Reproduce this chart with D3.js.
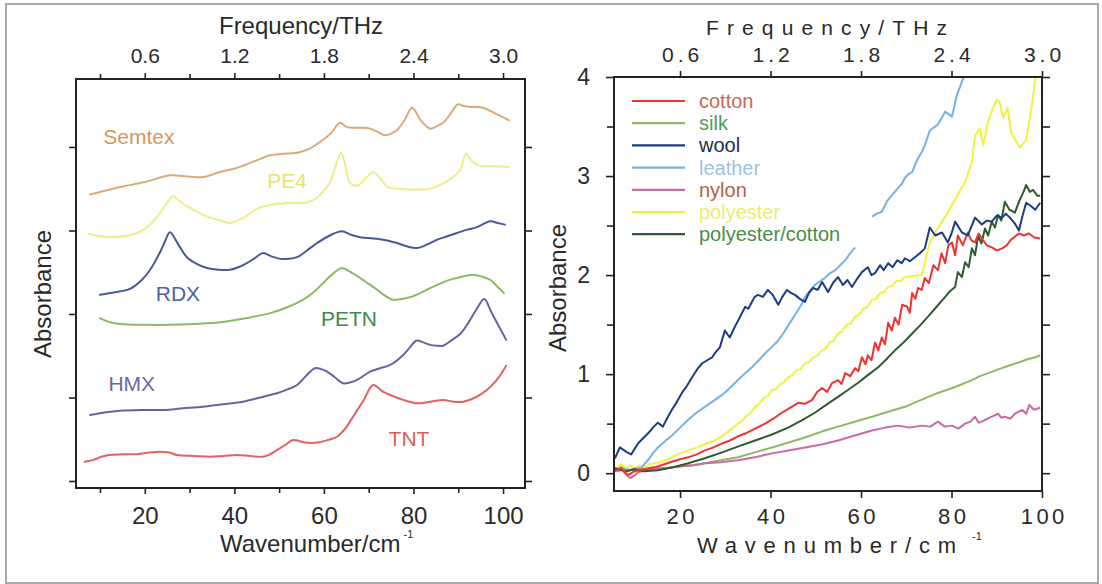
<!DOCTYPE html>
<html>
<head>
<meta charset="utf-8">
<script src="https://cdn.jsdelivr.net/npm/d3@7"></script>
<style>
  html, body { margin: 0; padding: 0; background: #fff; }
  svg { display: block; font-family: "Liberation Sans", Arial, Helvetica, sans-serif; }
</style>
</head>
<body>
<svg id="chart" width="1102" height="584"></svg>
<script>
// ---------- Explosives: THz absorbance spectra (offset), [wavenumber cm^-1, absorbance] ----------
const explosiveNames = ["Semtex", "PE4", "RDX", "PETN", "HMX", "TNT"];

const semtex = [[7.8,3.43],[14.5,3.52],[20,3.58],[25.6,3.66],[29,3.65],[33.0,3.64],[36.8,3.70],[40.6,3.75],[44.5,3.83],[48.0,3.90],[51,3.92],[54.0,3.93],[56.8,3.98],[59.1,4.06],[61.5,4.16],[63.6,4.29],[65.0,4.24],[66.5,4.23],[68.5,4.23],[70.3,4.22],[72.0,4.18],[73.6,4.14],[75.0,4.16],[76.3,4.20],[78.0,4.32],[79.7,4.47],[81.6,4.32],[83.7,4.22],[85.2,4.25],[86.6,4.29],[88.3,4.40],[89.9,4.51],[91.2,4.49],[92.6,4.48],[94.0,4.48],[95.5,4.47],[98.4,4.40],[101.3,4.32]];

const pe4 = [[7.5,2.96],[10,2.93],[12.2,2.92],[15.3,2.93],[18.3,2.97],[21,3.06],[23.4,3.21],[25.0,3.33],[26.3,3.41],[28.5,3.32],[30.8,3.25],[33.2,3.18],[35.5,3.14],[37.3,3.11],[39.0,3.09],[42,3.15],[45.1,3.26],[48.3,3.31],[51.5,3.33],[53.6,3.33],[55.8,3.33],[58.2,3.38],[60.2,3.49],[61.4,3.58],[62.3,3.72],[63.1,3.85],[63.8,3.93],[64.6,3.82],[65.8,3.57],[67.6,3.54],[69.4,3.63],[71.0,3.70],[72.6,3.62],[74.3,3.52],[76.8,3.50],[79.2,3.49],[81.5,3.49],[83.7,3.50],[86.2,3.55],[88.6,3.63],[90.4,3.72],[91.7,3.92],[93.1,3.83],[94.6,3.78],[97.9,3.77],[101.3,3.76]];

const rdx = [[10.0,2.23],[13.4,2.26],[16.7,2.30],[19.2,2.40],[21.2,2.53],[23.4,2.74],[24.6,2.88],[25.6,2.98],[27.4,2.84],[29.4,2.68],[31.6,2.60],[33.9,2.55],[36.5,2.53],[39.0,2.53],[40.9,2.56],[42.8,2.61],[44.6,2.67],[46.4,2.73],[48.3,2.69],[50.2,2.66],[52.1,2.66],[54.0,2.68],[56.2,2.76],[58.5,2.85],[61.3,2.94],[64.0,2.99],[66.0,2.95],[68.1,2.92],[71.9,2.90],[76.3,2.85],[78.5,2.81],[80.8,2.79],[83.0,2.83],[85.3,2.89],[87.5,2.93],[89.7,2.97],[92.0,3.01],[94.2,3.04],[97.1,3.11],[98.8,3.09],[100.4,3.07]];

const petn = [[10.0,1.95],[12.2,1.90],[14.5,1.88],[20,1.87],[25.6,1.87],[31,1.88],[36.8,1.90],[42.5,1.95],[48.0,2.01],[51.8,2.08],[55.3,2.17],[57.7,2.26],[59.8,2.37],[62.0,2.48],[64.0,2.55],[66.0,2.50],[68.1,2.43],[70.0,2.36],[71.9,2.29],[73.6,2.22],[75.4,2.17],[77.3,2.18],[79.2,2.20],[81.5,2.25],[83.7,2.31],[86.2,2.37],[88.8,2.42],[91.0,2.45],[93.3,2.47],[95.2,2.45],[97.1,2.41],[98.7,2.33],[100.2,2.25]];

const hmx = [[7.8,0.79],[11,0.82],[14.5,0.84],[19,0.85],[24.1,0.85],[28.5,0.87],[33.0,0.89],[37.5,0.92],[41.9,0.95],[45.8,1.00],[49.5,1.05],[52,1.10],[54.0,1.15],[56.2,1.27],[58.0,1.35],[59.4,1.34],[60.7,1.31],[62.5,1.24],[64.3,1.17],[65.8,1.18],[67.4,1.21],[70.3,1.31],[72.5,1.35],[74.8,1.39],[77.7,1.51],[79.2,1.60],[80.6,1.68],[82.2,1.66],[83.7,1.63],[85.2,1.62],[86.6,1.62],[88.6,1.69],[90.6,1.77],[92.3,1.90],[94.0,2.05],[95.8,2.18],[97.4,2.02],[99.0,1.86],[100.7,1.69]];

const tnt = [[6.6,0.23],[8.4,0.25],[10.3,0.29],[12.2,0.31],[15,0.32],[18.3,0.32],[21,0.34],[23.4,0.35],[25.5,0.34],[27.2,0.31],[31,0.30],[34.6,0.29],[37.6,0.30],[40.6,0.31],[43.5,0.30],[46.4,0.29],[48.0,0.32],[49.5,0.37],[51.3,0.43],[53.1,0.49],[55.8,0.46],[58.5,0.46],[60.8,0.49],[62.9,0.53],[64.8,0.63],[66.5,0.77],[68.8,0.96],[71.0,1.15],[72.9,1.08],[74.8,1.03],[77.8,0.97],[80.8,0.93],[83.7,0.95],[86.6,0.97],[88.9,0.95],[91.1,0.95],[93.8,1.00],[96.4,1.09],[98.6,1.21],[100.7,1.38]];

const explosiveSeries = [semtex, pe4, rdx, petn, hmx, tnt];

// ---------- Fabrics: THz absorbance, [wavenumber cm^-1, absorbance] ----------
const fabricNames = ["cotton", "silk", "wool", "leather", "nylon", "polyester", "polyester/cotton"];

const cotton = [[5.6,0.03],[7.0,0.05],[8.5,-0.02],[10.0,0.02],[12.0,0.04],[14.5,0.06],[16.5,0.09],[18.5,0.12],[20.0,0.14],[21.8,0.16],[23.7,0.19],[25.5,0.23],[27.4,0.26],[29.3,0.30],[31.0,0.33],[32.7,0.37],[34.4,0.40],[36.6,0.45],[38.8,0.50],[40.6,0.55],[42.5,0.61],[44.3,0.66],[46.1,0.71],[47.6,0.70],[49.2,0.74],[50.3,0.82],[51.4,0.86],[52.5,0.82],[53.6,0.91],[54.9,0.94],[55.7,0.90],[56.5,1.01],[57.6,0.98],[58.7,1.06],[59.4,1.03],[60.2,1.17],[61.0,1.10],[61.5,1.19],[62.3,1.14],[63.1,1.32],[63.8,1.24],[64.6,1.37],[65.3,1.30],[66.0,1.52],[66.8,1.44],[67.5,1.57],[68.3,1.50],[69.1,1.70],[70.2,1.68],[70.8,1.62],[71.3,1.82],[72.0,1.76],[72.6,1.87],[73.4,1.85],[74.1,1.97],[75.0,1.92],[76.0,2.10],[77.0,2.05],[77.8,2.22],[78.6,2.12],[79.3,2.30],[80.1,2.33],[80.8,2.20],[81.4,2.40],[82.5,2.30],[83.6,2.43],[84.4,2.35],[85.2,2.33],[86.0,2.42],[86.7,2.37],[87.8,2.30],[88.9,2.28],[90.0,2.25],[91.2,2.27],[92.2,2.30],[93.2,2.36],[94.9,2.42],[96.0,2.40],[97.1,2.42],[98.3,2.38],[99.6,2.37]];

const silk = [[5.6,0.03],[7.0,0.06],[8.5,0.02],[10.0,0.05],[12.0,0.04],[14.0,0.06],[17.0,0.05],[20.0,0.07],[22.8,0.08],[25.5,0.10],[29.0,0.13],[32.8,0.16],[36.5,0.21],[40.3,0.26],[44.0,0.31],[47.6,0.36],[51.3,0.42],[54.9,0.47],[58.6,0.52],[62.4,0.57],[66.0,0.62],[69.7,0.67],[73.3,0.74],[77.0,0.81],[80.8,0.87],[84.5,0.94],[86.3,0.98],[88.1,1.01],[90.5,1.05],[92.9,1.09],[95.0,1.12],[96.8,1.15],[98.5,1.17],[99.6,1.19]];

const wool = [[5.6,0.15],[6.7,0.26],[8.3,0.21],[9.2,0.19],[10.7,0.30],[12.0,0.36],[12.9,0.40],[14.0,0.46],[15.1,0.51],[16.2,0.47],[17.2,0.56],[18.2,0.64],[19.3,0.72],[20.4,0.81],[21.5,0.88],[22.7,0.97],[23.8,1.05],[24.9,1.11],[26.0,1.14],[27.1,1.17],[28.0,1.23],[28.8,1.27],[29.9,1.44],[31.0,1.37],[31.8,1.45],[32.6,1.52],[33.5,1.60],[34.4,1.68],[35.1,1.66],[35.9,1.73],[36.5,1.78],[37.2,1.80],[38.3,1.78],[39.4,1.85],[40.5,1.80],[41.7,1.70],[42.6,1.78],[43.6,1.85],[44.5,1.82],[45.4,1.80],[46.5,1.76],[47.6,1.73],[48.5,1.82],[49.4,1.87],[50.4,1.85],[51.4,1.93],[52.7,1.83],[53.8,1.92],[54.9,1.98],[56.0,1.90],[57.0,1.95],[58.0,1.88],[59.1,1.96],[60.2,2.03],[61.5,2.08],[62.3,2.00],[63.1,2.02],[64.2,2.10],[65.0,2.05],[66.0,2.12],[67.0,2.08],[68.0,2.15],[69.0,2.12],[69.7,2.17],[70.8,2.14],[71.9,2.18],[73.0,2.22],[74.1,2.27],[75.2,2.48],[76.4,2.40],[77.9,2.43],[79.2,2.33],[80.0,2.42],[80.8,2.54],[82.3,2.43],[83.6,2.40],[85.2,2.58],[86.7,2.51],[87.8,2.55],[88.9,2.54],[90.0,2.60],[91.2,2.58],[92.0,2.62],[92.9,2.58],[94.0,2.52],[94.9,2.45],[95.7,2.60],[96.5,2.73],[97.5,2.70],[98.5,2.66],[99.6,2.73]];

// null marks the break in the recorded leather trace
const leather = [[6.0,0.02],[8.0,0.04],[10.0,0.03],[11.5,0.06],[12.9,0.13],[14.0,0.20],[15.1,0.26],[16.6,0.32],[18.2,0.38],[20.0,0.46],[21.8,0.54],[23.6,0.61],[25.5,0.67],[27.4,0.73],[29.3,0.79],[31.0,0.86],[32.8,0.94],[34.4,1.01],[35.9,1.07],[37.4,1.14],[38.8,1.21],[40.2,1.27],[41.7,1.34],[42.8,1.41],[43.9,1.49],[45.0,1.57],[46.1,1.65],[46.8,1.70],[47.6,1.78],[48.7,1.84],[49.8,1.90],[51.0,1.94],[52.0,1.97],[53.2,2.02],[54.3,2.05],[55.4,2.10],[56.5,2.15],[57.6,2.22],[58.7,2.28],[60.5,null],[62.4,2.59],[63.5,2.62],[64.6,2.64],[65.8,2.75],[66.9,2.81],[68.2,2.88],[69.0,2.92],[69.7,2.98],[70.5,3.02],[71.3,3.04],[72.0,3.12],[72.6,3.18],[73.4,3.24],[74.1,3.31],[75.2,3.46],[76.1,3.49],[77.0,3.52],[78.0,3.60],[78.6,3.65],[80.1,3.60],[81.2,3.82],[82.3,3.95],[83.0,4.05]];

const nylon = [[5.6,0.02],[7.0,0.04],[7.8,0.00],[9.0,-0.05],[10.0,-0.02],[10.7,0.01],[12.5,0.03],[14.5,0.04],[16.5,0.05],[18.2,0.06],[20.5,0.07],[23.0,0.08],[25.5,0.10],[29.0,0.11],[32.8,0.13],[36.5,0.16],[40.3,0.20],[44.0,0.23],[47.6,0.26],[51.3,0.29],[54.9,0.33],[58.6,0.38],[62.4,0.43],[65.3,0.46],[68.2,0.48],[70.8,0.46],[73.5,0.48],[75.3,0.47],[77.0,0.52],[78.5,0.47],[80.1,0.48],[81.5,0.45],[83.0,0.50],[84.2,0.52],[85.2,0.57],[86.0,0.51],[86.7,0.52],[88.0,0.55],[88.9,0.57],[90.3,0.60],[91.0,0.56],[91.8,0.57],[93.0,0.55],[94.0,0.60],[95.6,0.64],[96.5,0.60],[97.2,0.69],[98.2,0.64],[99.6,0.66]];

const polyester = [[6.0,0.05],[7.0,0.09],[8.0,0.05],[9.0,0.08],[10.0,0.03],[11.0,0.08],[12.0,0.05],[13.2,0.09],[14.5,0.10],[15.5,0.11],[16.5,0.13],[17.5,0.14],[18.5,0.17],[20.0,0.20],[21.8,0.23],[23.8,0.26],[25.8,0.30],[27.7,0.33],[29.5,0.38],[31.2,0.44],[32.8,0.50],[33.8,0.53],[34.7,0.58],[35.6,0.61],[36.6,0.67],[37.5,0.70],[38.5,0.76],[39.4,0.78],[40.3,0.84],[41.2,0.85],[42.1,0.90],[43.0,0.92],[43.9,0.97],[44.8,0.99],[45.7,1.04],[46.6,1.05],[47.6,1.11],[48.5,1.12],[49.5,1.17],[50.4,1.19],[51.4,1.24],[52.2,1.26],[53.1,1.32],[54.0,1.34],[54.9,1.41],[55.8,1.43],[56.8,1.50],[57.7,1.51],[58.7,1.58],[59.6,1.60],[60.5,1.66],[61.4,1.68],[62.4,1.75],[63.3,1.76],[64.2,1.82],[65.1,1.83],[66.0,1.88],[66.9,1.89],[67.8,1.94],[68.8,1.94],[69.7,1.98],[71.6,1.99],[73.5,2.00],[74.1,2.13],[75.2,2.33],[76.4,2.43],[77.9,2.54],[79.0,2.62],[80.1,2.71],[81.4,2.81],[83.0,2.94],[84.5,3.14],[85.2,3.41],[86.3,3.48],[87.0,3.31],[88.1,3.55],[89.2,3.69],[90.0,3.77],[90.6,3.75],[91.4,3.59],[92.4,3.69],[93.2,3.43],[94.2,3.36],[95.1,3.29],[96.5,3.36],[97.6,3.67],[98.5,3.97],[99.0,4.05]];

const polyCotton = [[5.6,0.05],[8.0,0.02],[10.0,0.04],[12.0,0.02],[15.1,0.03],[18.5,0.06],[21.8,0.10],[25.5,0.15],[29.3,0.21],[32.9,0.27],[36.6,0.33],[40.3,0.39],[43.9,0.46],[46.8,0.53],[49.8,0.61],[52.3,0.69],[54.9,0.77],[57.1,0.84],[59.3,0.91],[61.5,0.99],[63.8,1.07],[65.6,1.15],[67.5,1.24],[69.4,1.32],[71.3,1.41],[73.0,1.49],[74.8,1.58],[76.7,1.68],[78.6,1.78],[79.7,1.84],[80.8,1.88],[81.4,2.03],[82.3,1.98],[83.0,2.13],[83.8,2.08],[84.5,2.27],[85.2,2.20],[85.9,2.40],[86.6,2.32],[87.4,2.47],[88.1,2.40],[88.9,2.54],[89.6,2.48],[90.3,2.61],[91.0,2.55],[91.8,2.74],[92.8,2.66],[94.0,2.63],[95.0,2.75],[96.0,2.85],[96.5,2.91],[97.3,2.84],[98.0,2.86],[99.0,2.80],[99.6,2.80]];

const fabricSeries = [cotton, silk, wool, leather, nylon, polyester, polyCotton];

// ---------- Axis ticks ----------
const wavenumberTicks = [20, 40, 60, 80, 100];
const wavenumberMinorTicks = [10, 30, 50, 70, 90];
const frequencyTicks = [0.6, 1.2, 1.8, 2.4, 3.0];
const frequencyMinorTicks = [0.3, 0.9, 1.5, 2.1, 2.7];
const absorbanceTicks = [0, 1, 2, 3, 4];
const absorbanceMinorTicks = [0.5, 1.5, 2.5, 3.5];
const THZ_PER_WAVENUMBER = 0.03;   // 1 cm^-1 = 0.03 THz

// ---------- Styles ----------
const explosiveStyle = {
  Semtex: { line: "#d9ab7a", text: "#d4965c", at: [18.7, 4.12] },
  PE4:    { line: "#eeee8a", text: "#e6e36a", at: [51.8, 3.60] },
  RDX:    { line: "#48599a", text: "#4a63a0", at: [27.4, 2.25] },
  PETN:   { line: "#8cba62", text: "#3d8a4a", at: [65.6, 1.95] },
  HMX:    { line: "#6565a2", text: "#686aa6", at: [17.1, 1.17] },
  TNT:    { line: "#e06262", text: "#de5d55", at: [79.0, 0.51] }
};
const fabricStyle = {
  "cotton":           { line: "#ee3333", text: "#c46a54" },
  "silk":             { line: "#8fb865", text: "#4e9c5c" },
  "wool":             { line: "#1d3c84", text: "#1e2d4e" },
  "leather":          { line: "#74b2e2", text: "#9cc2e2" },
  "nylon":            { line: "#c96aa4", text: "#b4633e" },
  "polyester":        { line: "#f2f23e", text: "#ecec72" },
  "polyester/cotton": { line: "#2f5c2f", text: "#4b8b4b" }
};
const drawOrder = ["polyester", "leather", "silk", "nylon", "polyester/cotton", "cotton", "wool"];

const svg = d3.select("#chart");
const INK = "#222";

// outer frame of the figure
svg.append("rect").attr("x", 6).attr("y", 4).attr("width", 1092).attr("height", 579)
  .attr("fill", "#fff").attr("stroke", "#a9a9a9").attr("stroke-width", 2);

function styleAxis(g, fontSize, opts = {}) {
  g.attr("font-family", null).attr("font-size", null);
  g.select(".domain").remove();
  g.selectAll(".tick line").attr("stroke", INK).attr("stroke-width", 1.6);
  g.selectAll(".tick text").attr("fill", "#2a2a2a").style("font-size", fontSize + "px");
  if (opts.spacing) {
    g.selectAll(".tick text").style("letter-spacing", opts.spacing + "px").attr("dx", opts.spacing / 2);
  }
}

// =================== Left panel: explosives ===================
const L = { x0: 76, x1: 525, y0: 79, y1: 488 };
const xL = d3.scaleLinear().domain([4.64, 104.9]).range([L.x0, L.x1]);
const fL = d3.scaleLinear().domain(xL.domain().map(d => d * THZ_PER_WAVENUMBER)).range([L.x0, L.x1]);
const yL = d3.scaleLinear().domain([-0.084, 4.814]).range([L.y1, L.y0]);

const gL = svg.append("g");

// bottom axis
gL.append("g").attr("transform", `translate(0,${L.y1})`)
  .call(d3.axisBottom(xL).tickValues(wavenumberMinorTicks).tickSize(5).tickFormat(""))
  .call(g => styleAxis(g, 24));
gL.append("g").attr("transform", `translate(0,${L.y1})`)
  .call(d3.axisBottom(xL).tickValues(wavenumberTicks).tickSize(6).tickPadding(13).tickFormat(d3.format("d")))
  .call(g => styleAxis(g, 24));
// top axis (frequency)
gL.append("g").attr("transform", `translate(0,${L.y0})`)
  .call(d3.axisTop(fL).tickValues(frequencyMinorTicks).tickSize(5).tickFormat(""))
  .call(g => styleAxis(g, 21));
gL.append("g").attr("transform", `translate(0,${L.y0})`)
  .call(d3.axisTop(fL).tickValues(frequencyTicks).tickSize(6).tickPadding(10).tickFormat(d3.format(".1f")))
  .call(g => styleAxis(g, 21));
// left / right axes without labels
gL.append("g").attr("transform", `translate(${L.x0},0)`)
  .call(d3.axisLeft(yL).tickValues(absorbanceTicks).tickSize(7).tickFormat(""))
  .call(g => styleAxis(g, 20));
gL.append("g").attr("transform", `translate(${L.x1},0)`)
  .call(d3.axisRight(yL).tickValues(absorbanceTicks).tickSize(7).tickFormat(""))
  .call(g => styleAxis(g, 20));

const lineL = d3.line().x(d => xL(d[0])).y(d => yL(d[1])).curve(d3.curveCatmullRom.alpha(0.5));
explosiveSeries.forEach((s, i) => {
  const st = explosiveStyle[explosiveNames[i]];
  gL.append("path").datum(s).attr("d", lineL)
    .attr("fill", "none").attr("stroke", st.line).attr("stroke-width", 2)
    .attr("stroke-linejoin", "round").attr("stroke-linecap", "round");
});
explosiveNames.forEach(name => {
  const st = explosiveStyle[name];
  gL.append("text").attr("x", xL(st.at[0])).attr("y", yL(st.at[1]))
    .attr("text-anchor", "middle").attr("dominant-baseline", "central")
    .attr("fill", st.text).style("font-size", "21px").text(name);
});

gL.append("rect").attr("x", L.x0).attr("y", L.y0).attr("width", L.x1 - L.x0).attr("height", L.y1 - L.y0)
  .attr("fill", "none").attr("stroke", INK).attr("stroke-width", 2);

// titles
gL.append("text").attr("x", 301).attr("y", 34).attr("text-anchor", "middle")
  .attr("fill", "#2a2a2a").style("font-size", "24px").text("Frequency/THz");
const wL = gL.append("text").attr("x", 220).attr("y", 552).attr("fill", "#2a2a2a").style("font-size", "24px");
wL.append("tspan").text("Wavenumber/cm");
wL.append("tspan").attr("dx", 3).attr("dy", -14).style("font-size", "11px").text("-1");
gL.append("text").attr("transform", "translate(42,294) rotate(-90)")
  .attr("text-anchor", "middle").attr("dominant-baseline", "central")
  .attr("fill", "#2a2a2a").style("font-size", "24px").text("Absorbance");

// =================== Right panel: fabrics ===================
const R = { x0: 614, x1: 1042, y0: 77, y1: 491 };
const xR = d3.scaleLinear().domain([5.4, 100]).range([R.x0, R.x1]);
const fR = d3.scaleLinear().domain(xR.domain().map(d => d * THZ_PER_WAVENUMBER)).range([R.x0, R.x1]);
const yR = d3.scaleLinear().domain([-0.18, 4.0]).range([R.y1, R.y0]);

const gR = svg.append("g");
svg.append("defs").append("clipPath").attr("id", "clipR")
  .append("rect").attr("x", R.x0).attr("y", R.y0).attr("width", R.x1 - R.x0).attr("height", R.y1 - R.y0);

gR.append("g").attr("transform", `translate(0,${R.y1})`)
  .call(d3.axisBottom(xR).tickValues(wavenumberTicks).tickSize(7).tickPadding(10).tickFormat(d3.format("d")))
  .call(g => styleAxis(g, 22, { spacing: 3.5 }));
gR.append("g").attr("transform", `translate(0,${R.y0})`)
  .call(d3.axisTop(fR).tickValues(frequencyTicks).tickSize(6).tickPadding(9).tickFormat(d3.format(".1f")))
  .call(g => styleAxis(g, 21, { spacing: 4 }));
gR.append("g").attr("transform", `translate(${R.x0},0)`)
  .call(d3.axisLeft(yR).tickValues(absorbanceMinorTicks).tickSize(7).tickFormat(""))
  .call(g => styleAxis(g, 23));
gR.append("g").attr("transform", `translate(${R.x0},0)`)
  .call(d3.axisLeft(yR).tickValues(absorbanceTicks).tickSize(8).tickPadding(16).tickFormat(d3.format("d")))
  .call(g => styleAxis(g, 23));
gR.append("g").attr("transform", `translate(${R.x1},0)`)
  .call(d3.axisRight(yR).tickValues(absorbanceMinorTicks.concat(absorbanceTicks)).tickSize(8).tickFormat(""))
  .call(g => styleAxis(g, 23));

const lineR = d3.line().defined(d => d[1] != null).x(d => xR(d[0])).y(d => yR(d[1]));
const curves = gR.append("g").attr("clip-path", "url(#clipR)");
drawOrder.forEach(name => {
  const i = fabricNames.indexOf(name);
  curves.append("path").datum(fabricSeries[i]).attr("d", lineR)
    .attr("fill", "none").attr("stroke", fabricStyle[name].line).attr("stroke-width", 2)
    .attr("stroke-linejoin", "round");
});

// legend
fabricNames.forEach((name, i) => {
  const cy = 101 + i * 22.2;
  gR.append("line").attr("x1", 632).attr("x2", 685).attr("y1", cy).attr("y2", cy)
    .attr("stroke", fabricStyle[name].line).attr("stroke-width", 2.2);
  gR.append("text").attr("x", 699).attr("y", cy).attr("dominant-baseline", "central")
    .attr("fill", fabricStyle[name].text).style("font-size", "20px").text(name);
});

gR.append("rect").attr("x", R.x0).attr("y", R.y0).attr("width", R.x1 - R.x0).attr("height", R.y1 - R.y0)
  .attr("fill", "none").attr("stroke", INK).attr("stroke-width", 2);

// titles (spaced lettering)
gR.append("text").attr("x", 706).attr("y", 35).attr("fill", "#2a2a2a").style("font-size", "21px")
  .attr("textLength", 241).attr("lengthAdjust", "spacing").text("Frequency/THz");
gR.append("text").attr("x", 697).attr("y", 553).attr("fill", "#2a2a2a").style("font-size", "22px")
  .attr("textLength", 259).attr("lengthAdjust", "spacing").text("Wavenumber/cm");
gR.append("text").attr("x", 972).attr("y", 540).attr("fill", "#2a2a2a").style("font-size", "11px").text("-1");
gR.append("text").attr("transform", "translate(557,288) rotate(-90)")
  .attr("text-anchor", "middle").attr("dominant-baseline", "central")
  .attr("fill", "#2a2a2a").style("font-size", "24px").text("Absorbance");
</script>
</body>
</html>
